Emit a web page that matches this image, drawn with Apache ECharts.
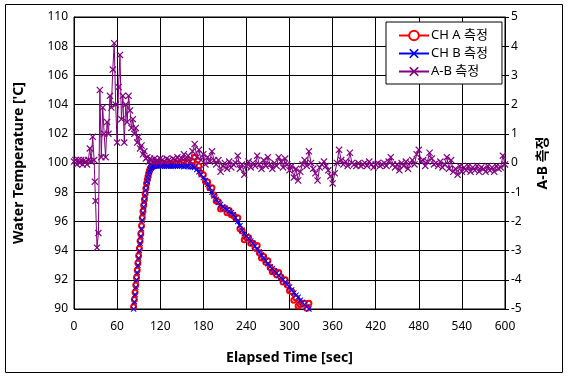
<!DOCTYPE html>
<html>
<head>
<meta charset="utf-8">
<script src="https://cdn.jsdelivr.net/npm/echarts@6/dist/echarts.min.js"></script>
<style>html,body{margin:0;padding:0;background:#fff}#c{width:569px;height:379px}</style>
</head>
<body>
<div id="c"></div>
<script>
// Axis ticks
var xTicks = [0, 60, 120, 180, 240, 300, 360, 420, 480, 540, 600];
var leftTicks = [90, 92, 94, 96, 98, 100, 102, 104, 106, 108, 110];
var rightTicks = [-5, -4, -3, -2, -1, 0, 1, 2, 3, 4, 5];
var seriesNames = ['CH A 측정', 'CH B 측정', 'A-B 측정'];

// CH A [time sec, temperature]
var chA = [[82,89.7],[83,90.15],[84,90.65],[85,91.15],[86,91.65],[87,92.15],[88,92.65],[89,93.15],[90,93.65],[91,94.15],[92,94.65],[93,95.15],[94,95.7],[95,96.25],[96,96.7],[97,97.1],[98,97.5],[99,97.9],[100,98.25],[101,98.6],[102,98.85],[103,99.08],[104,99.3],[105,99.47],[106,99.6],[107,99.68],[108,99.74],[109,99.77],[110,99.8],
[111,99.85],[114,99.85],[117,99.9],[120,99.95],[123,99.9],[126,99.85],[129,99.95],[132,99.9],[135,99.85],[138,99.95],[141,99.9],[144,100.0],[147,99.9],[150,99.95],[153,100.05],[156,99.9],[159,100.0],[162,99.8],[165,100.15],
[168,100.4],[171,99.9],[174,99.8],[177,99.3],[180,99.2],[183,98.75],[186,98.7],[189,98.3],[192,98.3],[195,97.8],[198,97.4],[201,97.35],[204,96.85],[207,96.9],[210,96.9],[213,96.6],[216,96.75],[219,96.45],[222,96.4],[225,96.25],[228,96.25],[231,95.5],[234,95.35],[237,94.75],[240,94.9],[243,94.9],[246,94.5],[249,94.5],[252,94.2],[255,94.35],[258,93.85],[261,93.5],[264,93.6],[267,93.2],[270,93.3],[273,92.85],[276,92.55],[279,92.6],[282,92.35],[285,92.5],[288,92.2],[291,91.85],[294,92.0],[297,91.65],[300,91.25],[303,91.2],[306,90.6],[309,90.75],[312,90.2],[315,90.3],[318,90.4],[321,90.4],[324,90.05],[327,90.4],[330,89.85]];

// CH B [time sec, temperature]
var chB = [[83,90.0],[84,90.5],[85,91.0],[86,91.5],[87,92.0],[88,92.5],[89,93.0],[90,93.5],[91,94.0],[92,94.5],[93,95.0],[94,95.5],[95,96.1],[96,96.6],[97,97.0],[98,97.4],[99,97.8],[100,98.15],[101,98.5],[102,98.75],[103,98.98],[104,99.2],[105,99.4],[106,99.55],[107,99.65],[108,99.72],[109,99.76],[110,99.78],
[111,99.78],[114,99.8],[117,99.78],[120,99.8],[123,99.8],[126,99.78],[129,99.8],[132,99.8],[135,99.78],[138,99.8],[141,99.8],[144,99.78],[147,99.8],[150,99.8],[153,99.75],[156,99.8],[159,99.78],[162,99.75],[165,99.75],
[168,99.7],[171,99.55],[174,99.4],[177,99.2],[180,99.0],[183,98.8],[186,98.55],[189,98.3],[192,98.0],[195,97.75],[198,97.5],[201,97.3],[204,97.15],[207,97.0],[210,96.9],[213,96.8],[216,96.7],[219,96.6],[222,96.45],[225,96.25],[228,96.0],[231,95.7],[234,95.4],[237,95.15],[240,95.0],[243,94.85],[246,94.65],[249,94.5],[252,94.3],[255,94.1],[258,93.9],[261,93.7],[264,93.5],[267,93.3],[270,93.1],[273,92.9],[276,92.75],[279,92.6],[282,92.45],[285,92.3],[288,92.15],[291,92.0],[294,91.85],[297,91.7],[300,91.5],[303,91.3],[306,91.1],[309,90.95],[312,90.8],[315,90.6],[318,90.45],[321,90.3],[324,90.15],[327,90.0],[330,89.85]];

// A-B [time sec, difference]
var abDiff = [[0,0.05],[2,0.1],[4,-0.05],[6,0.1],[8,0.0],[10,0.1],[12,-0.05],[14,0.1],[16,0.05],[18,-0.05],[20,0.1],[22,0.5],[24,0.05],[26,0.9],[28,0.1],[29,-0.64],[30,-1.3],[32,-2.9],[34,-2.4],[36,2.5],[38,0.2],[40,1.9],[42,1.0],[44,0.2],[46,1.4],[48,1.0],[50,2.3],[52,1.9],[54,3.2],[56,4.1],[58,2.0],[60,0.7],[62,2.6],[64,3.7],[66,1.5],[68,2.3],[70,0.7],[72,2.0],[74,1.4],[76,2.3],[78,1.8],[80,1.2],[82,1.5],[84,1.0],[86,1.2],[88,0.7],[90,0.9],[92,0.5],[94,0.6],[96,0.3],[98,0.4],[100,0.15],[102,0.2],[104,0.05],[106,0.15],[108,0.1],[110,0.0],[112,0.15],[114,0.05],[116,0.1],[118,0.0],[120,0.15],
[123,0.1],[126,0.05],[129,0.15],[132,0.1],[135,0.05],[138,0.15],[141,0.1],[144,0.2],[147,0.1],[150,0.15],[153,0.3],[156,0.1],[159,0.25],[162,0.05],[165,0.4],[168,0.65],[171,0.2],[174,0.45],[177,0.1],[180,0.3],[183,-0.05],[186,0.2],[189,0.05],[192,0.4],[195,0.1],[198,-0.05],[201,0.1],[204,-0.3],[207,-0.1],[210,0.0],[213,-0.2],[216,0.05],[219,-0.15],[222,-0.05],[225,0.0],[228,0.25],[231,-0.2],[234,-0.05],[237,-0.4],[240,-0.1],[243,0.05],[246,-0.15],[249,0.0],[252,-0.1],[255,0.25],[258,-0.05],[261,-0.2],[264,0.1],[267,-0.1],[270,0.2],[273,-0.05],[276,-0.2],[279,0.0],[282,-0.1],[285,0.2],[288,0.05],[291,-0.15],[294,0.15],[297,-0.05],[300,-0.25],[303,-0.1],[306,-0.5],[309,-0.2],[312,-0.6],[315,-0.3],[318,-0.05],[321,0.1],[324,-0.1],[327,0.4],[330,0.0],[333,-0.2],[336,-0.35],[339,-0.6],[342,-0.15],[345,-0.05],[348,0.05],[351,-0.1],[354,-0.25],[357,-0.45],[360,-0.7],[363,-0.35],[366,0.0],[369,0.45],[372,0.1],[375,-0.05],[378,0.05],[381,-0.1],[384,0.35],[387,0.0],[390,-0.05],[393,-0.1],[396,0.0],[399,-0.1],[402,-0.05],[405,0.0],[408,-0.1],[411,0.05],[414,-0.05],[417,-0.15],[420,-0.05],[423,0.0],[426,-0.1],[429,-0.05],[432,0.0],[435,-0.1],[438,0.05],[441,0.2],[444,-0.05],[447,-0.15],[450,-0.05],[453,-0.25],[456,0.0],[459,-0.1],[462,0.05],[465,-0.2],[468,0.0],[471,0.1],[474,-0.05],[477,0.3],[480,0.45],[483,0.05],[486,0.1],[489,-0.1],[492,0.05],[495,0.35],[498,0.15],[501,-0.05],[504,0.0],[507,-0.1],[510,0.05],[513,-0.15],[516,-0.05],[519,0.2],[522,-0.2],[525,0.1],[528,-0.3],[531,-0.2],[534,-0.4],[537,-0.1],[540,-0.3],[543,-0.15],[546,-0.25],[549,-0.1],[552,-0.3],[555,-0.15],[558,-0.25],[561,-0.1],[564,-0.3],[567,-0.15],[570,-0.2],[573,-0.3],[576,-0.1],[579,-0.25],[582,-0.15],[585,-0.3],[588,-0.1],[591,-0.2],[594,-0.15],[597,0.25],[600,-0.05]];

var crossPath = 'path://M0,1.2L1.2,0L5,3.8L8.8,0L10,1.2L6.2,5L10,8.8L8.8,10L5,6.2L1.2,10L0,8.8L3.8,5Z';
var FONT = "'Noto Sans', 'Noto Sans CJK KR', sans-serif";

var chart = echarts.init(document.getElementById('c'), null, {renderer: 'canvas'});
chart.setOption({
  animation: false,
  backgroundColor: '#fff',
  textStyle: {fontFamily: FONT},
  graphic: [{
    type: 'rect', shape: {x: 5.5, y: 4.5, width: 557, height: 368},
    style: {fill: 'none', stroke: '#000', lineWidth: 1}, silent: true, z: -10
  }],
  grid: {left: 74, top: 17, right: 64, bottom: 70, show: true, borderColor: '#000', borderWidth: 1, backgroundColor: 'transparent'},
  legend: {
    data: seriesNames,
    orient: 'vertical',
    left: 386, top: 22,
    padding: [7, 14, 6, 12],
    itemGap: 5,
    itemWidth: 30, itemHeight: 12,
    backgroundColor: '#fff',
    borderColor: '#000', borderWidth: 1, borderRadius: 0,
    textStyle: {fontFamily: FONT, fontSize: 13, color: '#000', padding: [0, 0, 0, -3]}
  },
  xAxis: {
    type: 'value', min: 0, max: 600, interval: 60,
    name: 'Elapsed Time [sec]', nameLocation: 'middle', nameGap: 42,
    nameTextStyle: {fontFamily: FONT, fontSize: 14, fontWeight: 'bold', color: '#000'},
    axisLine: {show: true, lineStyle: {color: '#000', width: 1}},
    axisTick: {show: false},
    axisLabel: {fontFamily: FONT, fontSize: 12, color: '#000', margin: 12,
      formatter: function (v) { return xTicks.indexOf(v) >= 0 ? String(v) : ''; }},
    splitLine: {show: true, lineStyle: {color: '#000', width: 1}}
  },
  yAxis: [{
    type: 'value', min: 90, max: 110, interval: 2, position: 'left',
    name: "Water Temperature ['C]", nameLocation: 'middle', nameGap: 48, nameRotate: 90,
    nameTextStyle: {fontFamily: FONT, fontSize: 14, fontWeight: 'bold', color: '#000'},
    axisLine: {show: true, lineStyle: {color: '#000', width: 1}},
    axisTick: {show: true, inside: true, length: 4, lineStyle: {color: '#000'}},
    axisLabel: {fontFamily: FONT, fontSize: 12, color: '#000', margin: 6,
      formatter: function (v) { return leftTicks.indexOf(v) >= 0 ? String(v) : ''; }},
    splitLine: {show: true, lineStyle: {color: '#000', width: 1}}
  }, {
    type: 'value', min: -5, max: 5, interval: 1, position: 'right',
    name: 'A-B 측정', nameLocation: 'middle', nameGap: 31, nameRotate: 90,
    nameTextStyle: {fontFamily: FONT, fontSize: 14, fontWeight: 'bold', color: '#000'},
    axisLine: {show: true, lineStyle: {color: '#000', width: 1}},
    axisTick: {show: true, inside: false, length: 4, lineStyle: {color: '#000'}},
    axisLabel: {fontFamily: FONT, fontSize: 12, color: '#000', margin: 6,
      formatter: function (v) { return rightTicks.indexOf(v) >= 0 ? String(v) : ''; }},
    splitLine: {show: false}
  }],
  series: [{
    name: seriesNames[0], type: 'line', yAxisIndex: 0, data: chA,
    symbol: 'emptyCircle', symbolSize: 5, showAllSymbol: true, clip: true,
    lineStyle: {color: '#ff0000', width: 1.5},
    itemStyle: {color: '#ff0000', borderColor: '#ff0000', borderWidth: 1},
    emphasis: {disabled: true}
  }, {
    name: seriesNames[1], type: 'line', yAxisIndex: 0, data: chB,
    symbol: crossPath, symbolSize: 6, showAllSymbol: true, clip: true,
    lineStyle: {color: '#0000ff', width: 2.5},
    itemStyle: {color: '#0000ff'},
    emphasis: {disabled: true}
  }, {
    name: seriesNames[2], type: 'line', yAxisIndex: 1, data: abDiff,
    symbol: crossPath, symbolSize: 7, showAllSymbol: true, clip: true,
    lineStyle: {color: '#800080', width: 1},
    itemStyle: {color: '#800080'},
    emphasis: {disabled: true}
  }]
});
</script>
</body>
</html>
